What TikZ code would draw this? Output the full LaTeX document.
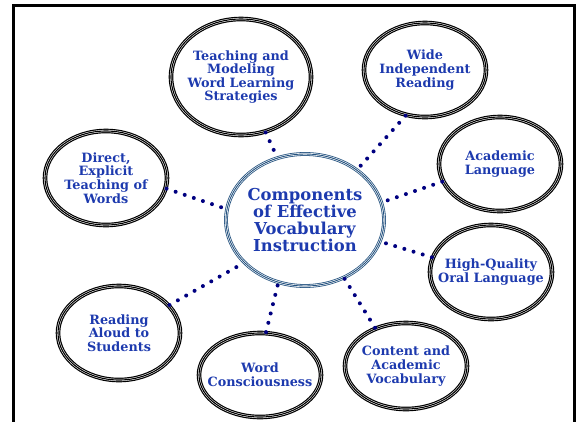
\documentclass[tikz,border=0pt]{standalone}
\usepackage{fontspec}
\setmainfont{DejaVu Serif}
\usetikzlibrary{shapes.geometric}
\definecolor{txtblue}{HTML}{1D3AAE}
\definecolor{hubblue}{HTML}{24527F}
\definecolor{dotblue}{HTML}{000080}
\tikzset{
  ring/.style={ellipse,draw=white,line width=2.2pt,inner xsep=-40pt,inner ysep=-30pt,
    preaction={draw=black,line width=4.6pt},
    postaction={draw=black,line width=1.1pt},
    text=txtblue,align=center,font=\fontsize{12.8}{13.6}\selectfont\bfseries},
  hubring/.style={ellipse,draw=white,line width=2.2pt,inner xsep=-40pt,inner ysep=-30pt,
    preaction={draw=hubblue,line width=3.8pt},
    postaction={draw=hubblue,line width=0.9pt},
    text=txtblue,align=center,font=\fontsize{16.4}{17}\selectfont\bfseries},
  dots/.style={dotblue,line width=4pt,line cap=round,dash pattern=on 0pt off 9.6pt}
}
\begin{document}
\begin{tikzpicture}[x=1pt,y=-1pt]
  \useasboundingbox (0,0) rectangle (576,421);
  % frame, open at the bottom
  \draw[line width=3pt] (13,430)--(13,5)--(574,5)--(574,430);
  % hub and the eight components
  \node[hubring,minimum width=158pt,minimum height=132pt] (hub) at (305,220)
    {Components\\of Effective\\Vocabulary\\Instruction};
  \node[ring,minimum width=140pt,minimum height=116pt] (teach) at (241,77)
    {Teaching and\\Modeling\\Word Learning\\Strategies};
  \node[ring,minimum width=122pt,minimum height=94pt] (wide) at (425,70)
    {Wide\\Independent\\Reading};
  \node[ring,minimum width=122pt,minimum height=94pt] (acad) at (500,164)
    {Academic\\Language};
  \node[ring,minimum width=122pt,minimum height=94pt] (oral) at (491,272)
    {High-Quality\\Oral Language};
  \node[ring,minimum width=122pt,minimum height=86pt] (content) at (406,366)
    {Content and\\Academic\\Vocabulary};
  \node[ring,minimum width=122pt,minimum height=84pt] (word) at (260,375)
    {Word\\Consciousness};
  \node[ring,minimum width=122pt,minimum height=94pt] (aloud) at (119,333)
    {Reading\\Aloud to\\Students};
  \node[ring,minimum width=122pt,minimum height=94pt] (direct) at (106,178)
    {Direct,\\Explicit\\Teaching of\\Words};
  % dotted spokes
  \draw[dots] (teach.-66)--(hub.114);
  \draw[dots] (wide.247)--(hub.44);
  \draw[dots] (acad.197)--(hub.13);
  \draw[dots] (oral.166)--(hub.-16);
  \draw[dots] (content.129)--(hub.-56);
  \draw[dots] (word.82)--(hub.-113);
  \draw[dots] (aloud.29)--(hub.215);
  \draw[dots] (direct.-10)--(hub.172);
\end{tikzpicture}
\end{document}
